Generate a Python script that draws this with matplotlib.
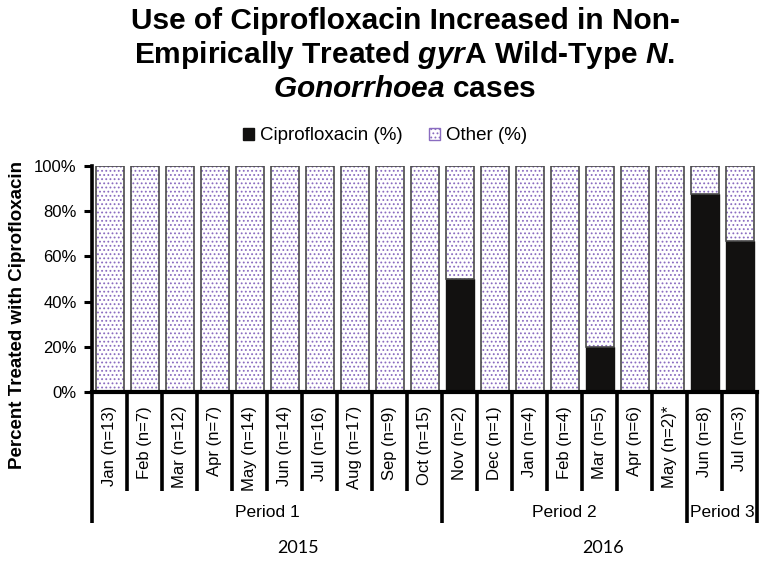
import numpy as np
import matplotlib.pyplot as plt
from matplotlib.patches import Patch
from matplotlib.transforms import blended_transform_factory

plt.rcParams['font.family'] = ['Liberation Sans', 'DejaVu Sans']
plt.rcParams['hatch.linewidth'] = 0.8
plt.rcParams['mathtext.fontset'] = 'custom'
plt.rcParams['mathtext.it'] = 'Liberation Sans:italic:bold'
plt.rcParams['mathtext.rm'] = 'Liberation Sans:bold'

months = ['Jan (n=13)', 'Feb (n=7)', 'Mar (n=12)', 'Apr (n=7)', 'May (n=14)',
          'Jun (n=14)', 'Jul (n=16)', 'Aug (n=17)', 'Sep (n=9)', 'Oct (n=15)',
          'Nov (n=2)', 'Dec (n=1)', 'Jan (n=4)', 'Feb (n=4)', 'Mar (n=5)',
          'Apr (n=6)', 'May (n=2)*', 'Jun (n=8)', 'Jul (n=3)']
cipro = [0, 0, 0, 0, 0, 0, 0, 0, 0, 0, 50, 0, 0, 0, 20, 0, 0, 87.5, 66.7]
other = [100 - c for c in cipro]

periods = ['Period 1', 'Period 2', 'Period 3']
period_bounds = [(-0.5, 9.5), (9.5, 16.5), (16.5, 18.5)]
years = ['2015', '2016']
year_pos = [5.4, 14.1]

W, H = 760, 562
fig = plt.figure(figsize=(W / 100, H / 100), dpi=100)
ax = fig.add_axes([92 / W, (H - 392) / H, 665 / W, 226 / H])

x = np.arange(len(months))
ax.bar(x, cipro, width=0.8, color='#121110', edgecolor='#121110', linewidth=1)
# dotted fill first, then grey outline on top
ax.bar(x, other, bottom=cipro, width=0.8, color='white', edgecolor='#8a6cc0',
       hatch='....', linewidth=0)
ax.bar(x, other, bottom=cipro, width=0.8, color='none', edgecolor='#4a4a4a',
       linewidth=1.2)

ax.set_xlim(-0.5, len(months) - 0.5)
ax.set_ylim(0, 100)
ax.set_yticks(np.arange(0, 101, 20))
ax.set_yticklabels([f'{v}%' for v in range(0, 101, 20)], fontsize=12)
ax.tick_params(axis='y', length=6, width=2.2, pad=5)
ax.set_xticks(x)
ax.set_xticklabels(months, rotation=90, va='top', ha='center', fontsize=12)
ax.tick_params(axis='x', length=0, pad=10)

for s in ['top', 'right']:
    ax.spines[s].set_visible(False)
ax.spines['left'].set_linewidth(2.6)
ax.spines['bottom'].set_linewidth(3)

# separators under the axis
tr = blended_transform_factory(ax.transData, ax.transAxes)
long_lines = [-0.5, 9.5, 16.5, 18.5]
for b in np.arange(-0.5, len(months), 1.0):
    low = -0.58 if b in long_lines else -0.438
    ax.plot([b, b], [0, low], transform=tr, color='black', lw=2.6,
            clip_on=False, solid_capstyle='butt')

for name, (a, b) in zip(periods, period_bounds):
    ax.text((a + b) / 2, -0.535, name, transform=tr, ha='center', va='center',
            fontsize=12.5)

for name, p in zip(years, year_pos):
    ax.text(p, -0.69, name, transform=tr, ha='center', va='center',
            fontsize=13, family=['Lato', 'DejaVu Sans'])

fig.text(18 / W, 1 - 315 / H, 'Percent Treated with Ciprofloxacin', rotation=90,
         ha='center', va='center', fontsize=13.5, fontweight='bold')

fig.text(405 / W, 1 - 55 / H,
         'Use of Ciprofloxacin Increased in Non-\n'
         'Empirically Treated $\\mathit{gyr}$A Wild-Type $\\mathit{N.}$\n'
         '$\\mathit{Gonorrhoea}$ cases',
         ha='center', va='center', fontsize=21.5, fontweight='bold',
         linespacing=1.18)

handles = [Patch(facecolor='#121110', edgecolor='#121110', label='Ciprofloxacin (%)'),
           Patch(facecolor='white', edgecolor='#8a6cc0', hatch='....', label='Other (%)')]
fig.legend(handles=handles, loc='center', bbox_to_anchor=(385 / W, 1 - 136 / H),
           ncol=2, frameon=False, handlelength=0.6, handleheight=0.6,
           handletextpad=0.3, columnspacing=1.4, prop={'size': 13.5})

fig.savefig('out.png', dpi=100)
